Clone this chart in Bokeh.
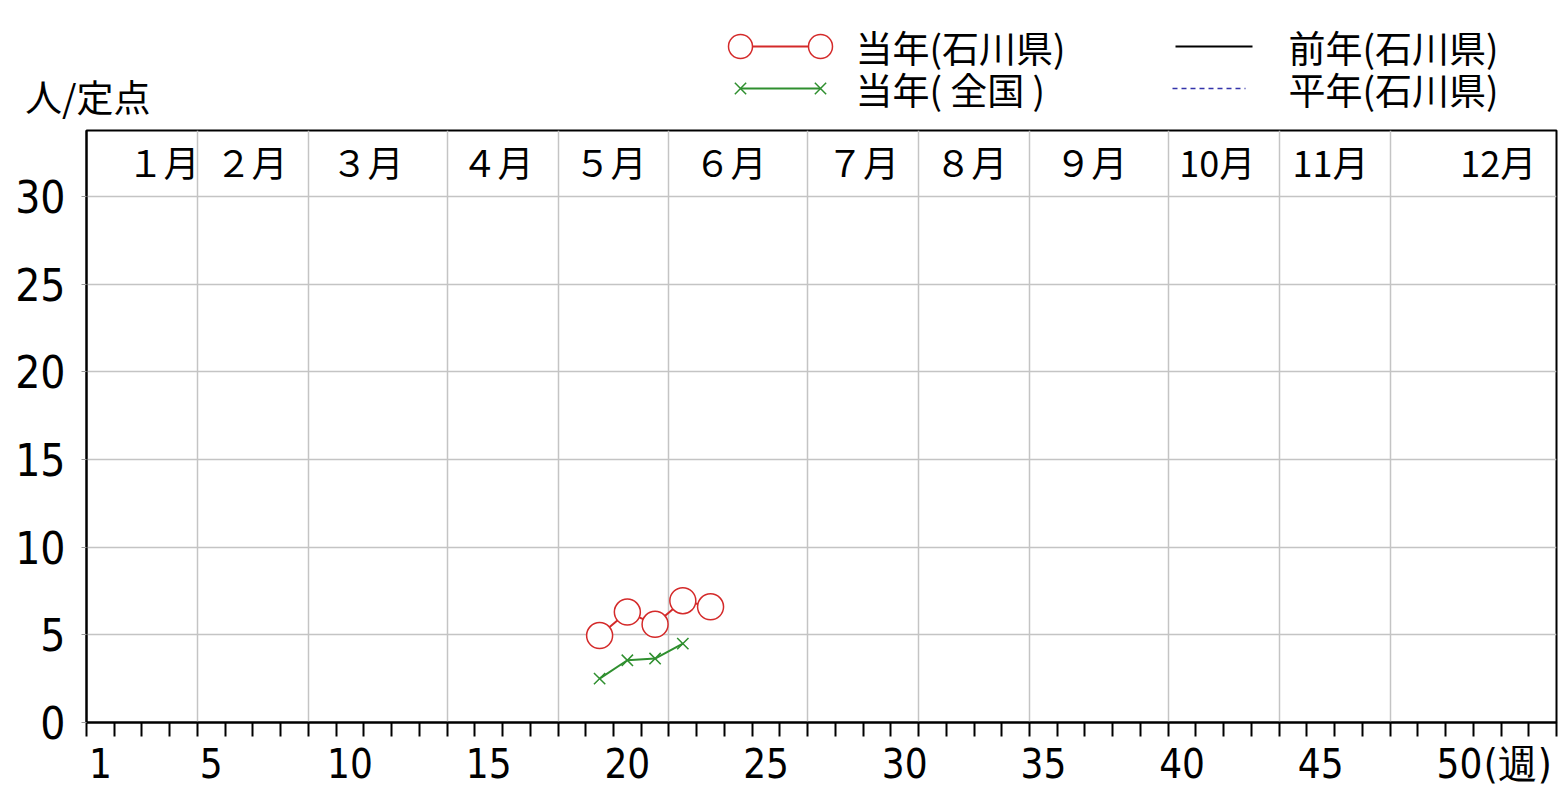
from bokeh.plotting import figure
from bokeh.models import Range1d, FixedTicker
from bokeh.layouts import column
from bokeh.embed import file_html
from bokeh.resources import INLINE
from bokeh.core.properties import value

# ---- data ----
weeks_pref = [19, 20, 21, 22, 23]
cur_pref = [4.96, 6.3, 5.6, 6.95, 6.6]
weeks_nat = [19, 20, 21, 22]
cur_nat = [2.5, 3.55, 3.65, 4.5]

x_tick_weeks = [1, 5, 10, 15, 20, 25, 30, 35, 40, 45, 50, 52.1]
x_tick_labels = ["1", "5", "10", "15", "20", "25", "30", "35", "40", "45", "50", "(週)"]
week_boundaries = [0.5 + i for i in range(54)]
month_boundaries = [4.5, 8.5, 13.5, 17.5, 21.5, 26.5, 30.5, 34.5, 39.5, 43.5, 47.5]
month_labels = ["１月", "２月", "３月", "４月", "５月", "６月", "７月", "８月", "９月", "10月", "11月", "12月"]
month_label_x = [3.28, 6.45, 10.63, 15.32, 19.39, 23.72, 28.5, 32.4, 36.73, 41.27, 45.35, 51.4]
y_ticks = [0, 5, 10, 15, 20, 25, 30]
legend_labels = ["当年(石川県)", "当年( 全国 )", "前年(石川県)", "平年(石川県)"]
y_unit = "人/定点"

RED = "#d42a2a"
GREEN = "#2f8f2f"
CJK = "Noto Sans CJK JP"
NUM = '"DejaVu Sans Condensed", "Liberation Sans Narrow", "Roboto Condensed", Roboto'

TOP_H = 126

# ---- legend / header figure (coordinates = page pixels) ----
tf = figure(width=1558, height=TOP_H, x_range=Range1d(86, 1556), y_range=Range1d(TOP_H, 0),
            output_backend="svg", toolbar_location=None,
            min_border_left=86, min_border_right=2, min_border_top=0, min_border_bottom=0,
            x_axis_type=None)
tf.grid.visible = False
tf.outline_line_color = None
ta = tf.yaxis[0]
ta.ticker = FixedTicker(ticks=[95], minor_ticks=[])
ta.major_label_overrides = {95: y_unit}
ta.axis_line_color = None
ta.major_tick_line_color = None
ta.minor_tick_line_color = None
ta.major_tick_out = 0
ta.major_tick_in = 0
ta.major_label_standoff = -64
ta.major_label_text_font = CJK
ta.major_label_text_font_size = "37px"
ta.major_label_text_color = "black"

tf.line([740, 820], [46, 46], line_color=RED, line_width=2)
tf.scatter([740, 820], [46, 46], marker="circle", size=24, fill_color="white",
           line_color=RED, line_width=1.5)
tf.line([740, 820], [88, 88], line_color=GREEN, line_width=2)
tf.scatter([740, 820], [88, 88], marker="x", size=16, line_color=GREEN, line_width=1.5)
tf.line([1175, 1252], [46, 46], line_color="black", line_width=2)
tf.line([1172, 1245], [88, 88], line_color="#3333aa", line_width=1.5, line_dash="5 4")
tf.text(x=[855, 855, 1288, 1288], y=[46, 88, 46, 88], text=legend_labels,
        text_font=value(CJK), text_font_size="37px", text_align="left",
        text_baseline="middle", text_color="black")

# ---- main figure ----
p = figure(width=1558, height=790 - TOP_H, x_range=Range1d(0.5, 53.5), y_range=Range1d(0, 33.77),
           output_backend="svg", toolbar_location=None,
           min_border_left=86, min_border_right=2, min_border_top=130 - TOP_H, min_border_bottom=68)
p.outline_line_color = "black"
p.outline_line_width = 2

p.xgrid.ticker = FixedTicker(ticks=month_boundaries)
p.ygrid.ticker = FixedTicker(ticks=[5, 10, 15, 20, 25, 30])
p.grid.grid_line_color = "#c4c4c4"
p.grid.grid_line_width = 1.5

xa = p.xaxis[0]
xa.ticker = FixedTicker(ticks=x_tick_weeks, minor_ticks=week_boundaries)
xa.major_label_overrides = {w: l for w, l in zip(x_tick_weeks, x_tick_labels)}
xa.major_tick_line_color = None
xa.major_tick_out = 0
xa.major_tick_in = 0
xa.minor_tick_out = 14
xa.minor_tick_in = 0
xa.minor_tick_line_color = "black"
xa.minor_tick_line_width = 2
xa.axis_line_color = "black"
xa.axis_line_width = 2
xa.major_label_text_font = NUM
xa.major_label_text_font_size = "40px"
xa.major_label_text_color = "black"
xa.major_label_standoff = 4

ya = p.yaxis[0]
ya.ticker = FixedTicker(ticks=y_ticks, minor_ticks=[])
ya.minor_tick_line_color = None
ya.major_tick_out = 5
ya.major_tick_in = 0
ya.major_tick_line_color = "#999999"
ya.axis_line_color = "black"
ya.axis_line_width = 2
ya.major_label_text_font = NUM
ya.major_label_text_font_size = "44px"
ya.major_label_text_color = "black"
ya.major_label_standoff = 16

p.text(x=month_label_x, y=[32.04] * len(month_labels), text=month_labels,
       text_font=value(CJK), text_font_size="36px", text_align="center",
       text_baseline="middle", text_color="black")

p.line(weeks_nat, cur_nat, line_color=GREEN, line_width=2)
p.scatter(weeks_nat, cur_nat, marker="x", size=16, line_color=GREEN, line_width=1.5)
p.line(weeks_pref, cur_pref, line_color=RED, line_width=2)
p.scatter(weeks_pref, cur_pref, marker="circle", size=26, fill_color="white",
          line_color=RED, line_width=1.5)

layout = column(tf, p, spacing=0)
open("out.html", "w").write(file_html(layout, INLINE))
